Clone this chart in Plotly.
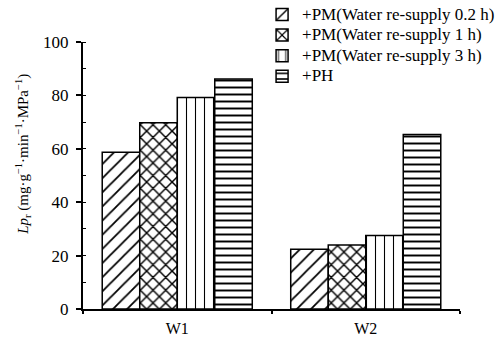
import plotly.graph_objects as go

categories = ["W1", "W2"]
series_names = [
    "+PM(Water re-supply 0.2 h)",
    "+PM(Water re-supply 1 h)",
    "+PM(Water re-supply 3 h)",
    "+PH",
]
values = [
    [58.7, 22.4],
    [69.8, 24.0],
    [79.2, 27.5],
    [86.1, 65.4],
]
patterns = ["/", "x", "|", "-"]
pattern_sizes = [10, 9, 9, 7]
pattern_solidity = [0.18, 0.3, 0.12, 0.28]
y_ticks = [0, 20, 40, 60, 80, 100]
y_title = "<i>Lp</i><sub>r</sub> (mg·g<sup>−1</sup>·min<sup>−1</sup>·MPa<sup>−1</sup>)"

FONT = "Liberation Serif, Times New Roman, serif"

fig = go.Figure()
for name, vals, pat, sz, so in zip(series_names, values, patterns, pattern_sizes, pattern_solidity):
    fig.add_trace(go.Bar(
        x=categories, y=vals,
        name='<span style="font-size:17px">' + name + '</span>',
        marker=dict(
            color="white",
            line=dict(color="black", width=1.5),
            pattern=dict(shape=pat, fgcolor="black", bgcolor="white", size=sz,
                         solidity=so, fgopacity=1),
        ),
    ))

fig.update_layout(
    width=500, height=343,
    margin=dict(l=83, r=40, t=42, b=34, autoexpand=False),
    paper_bgcolor="white", plot_bgcolor="white",
    barmode="group", bargap=0.204, bargroupgap=0,
    font=dict(family=FONT, size=15, color="black"),
    showlegend=True,
    legend=dict(
        x=0.475, y=1.16, xanchor="left", yanchor="top",
        font=dict(family=FONT, size=13.5, color="black"),
        tracegroupgap=0, itemwidth=30, bgcolor="rgba(0,0,0,0)",
    ),
    xaxis=dict(
        range=[-0.5, 1.5], showline=True, linecolor="black", linewidth=2,
        ticks="outside", tickson="boundaries", ticklen=3, tickcolor="black", tickwidth=1.5,
        ticklabelstandoff=4,
        showgrid=False, tickfont=dict(family=FONT, size=16),
    ),
    yaxis=dict(
        range=[0, 100], tickvals=y_ticks, showline=True, linecolor="black", linewidth=2,
        ticks="outside", ticklen=5, tickcolor="black", tickwidth=1.5,
        ticklabelstandoff=4,
        minor=dict(dtick=10, ticks="inside", ticklen=3, tickcolor="black", tickwidth=1),
        showgrid=False, zeroline=False, tickfont=dict(family=FONT, size=17),
    ),
    annotations=[dict(
        text=y_title, textangle=-90, xref="paper", yref="paper",
        x=-0.16, y=0.58, xanchor="center", yanchor="middle", showarrow=False,
        font=dict(family=FONT, size=15, color="black"),
    )],
)

fig.write_html("out.html")
